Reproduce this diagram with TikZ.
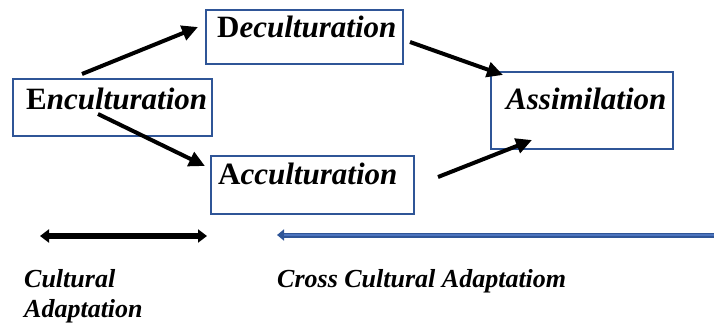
\documentclass[tikz,border=0pt]{standalone}
\usepackage{fontspec}
\setmainfont{Liberation Serif}
\usetikzlibrary{arrows.meta}
\definecolor{boxblue}{RGB}{47,85,151}
\definecolor{lightblue}{RGB}{76,116,190}
\begin{document}
\begin{tikzpicture}[x=1pt,y=-1pt,
  stage/.style={draw=boxblue,line width=2.4pt,anchor=north west,inner ysep=0pt,
    align=left,font=\fontsize{31}{31}\selectfont},
  flow/.style={line width=4pt,-{Triangle[length=16pt,width=15pt]}},
  caption/.style={anchor=base west,align=left,inner sep=0pt,
    font=\fontsize{26}{30}\selectfont\bfseries\itshape}]
\useasboundingbox (0,0) rectangle (714,324);
% stage boxes
\node[stage,inner xsep=11pt,text width=175pt,minimum height=54pt,text height=27pt,text depth=27pt]
  (dec) at (205,9) {\textbf{D}\textbf{\textit{eculturation}}};
\node[stage,inner xsep=13pt,text width=173pt,minimum height=57pt,text height=30pt,text depth=27pt]
  (enc) at (12,78) {\textbf{E}\textbf{\textit{nculturation}}};
\node[stage,inner xsep=7pt,text width=189pt,minimum height=58pt,text height=28pt,text depth=30pt]
  (acc) at (210,155) {\textbf{A}\textbf{\textit{cculturation}}};
\node[stage,inner xsep=15pt,text width=152pt,minimum height=77pt,text height=37pt,text depth=40pt]
  (asm) at (490,71) {\textbf{\textit{Assimilation}}};
% arrow end points
\coordinate (e1) at (82,74);
\coordinate (e2) at (98,114);
\coordinate (d1) at (410,42);
\coordinate (a1) at (438,177);
\coordinate (dtip) at (198,27);
\coordinate (atip) at (205,166);
\coordinate (s1) at (503,75);
\coordinate (s2) at (532,140);
\draw[flow] (e1) -- (dtip);
\draw[flow] (e2) -- (atip);
\draw[flow] (d1) -- (s1);
\draw[flow] (a1) -- (s2);
% scale bars
\coordinate (cl) at (40,236);
\coordinate (cr) at (207,236);
\draw[line width=5.5pt,{Triangle[length=9pt,width=13pt]}-{Triangle[length=9pt,width=13pt]}] (cl) -- (cr);
\coordinate (xl) at (277,235);
\coordinate (xr) at (716,235);
\draw[line width=5pt,boxblue,-{Triangle[length=7pt,width=11pt]}] (xr) -- (xl);
\draw[line width=1.4pt,lightblue] (xr) -- ([xshift=7pt]xl);
% captions
\node[caption] (cult) at (24,317) {Cultural\\Adaptation};
\node[caption] (cross) at (277,287) {Cross Cultural Adaptatiom};
\end{tikzpicture}
\end{document}
